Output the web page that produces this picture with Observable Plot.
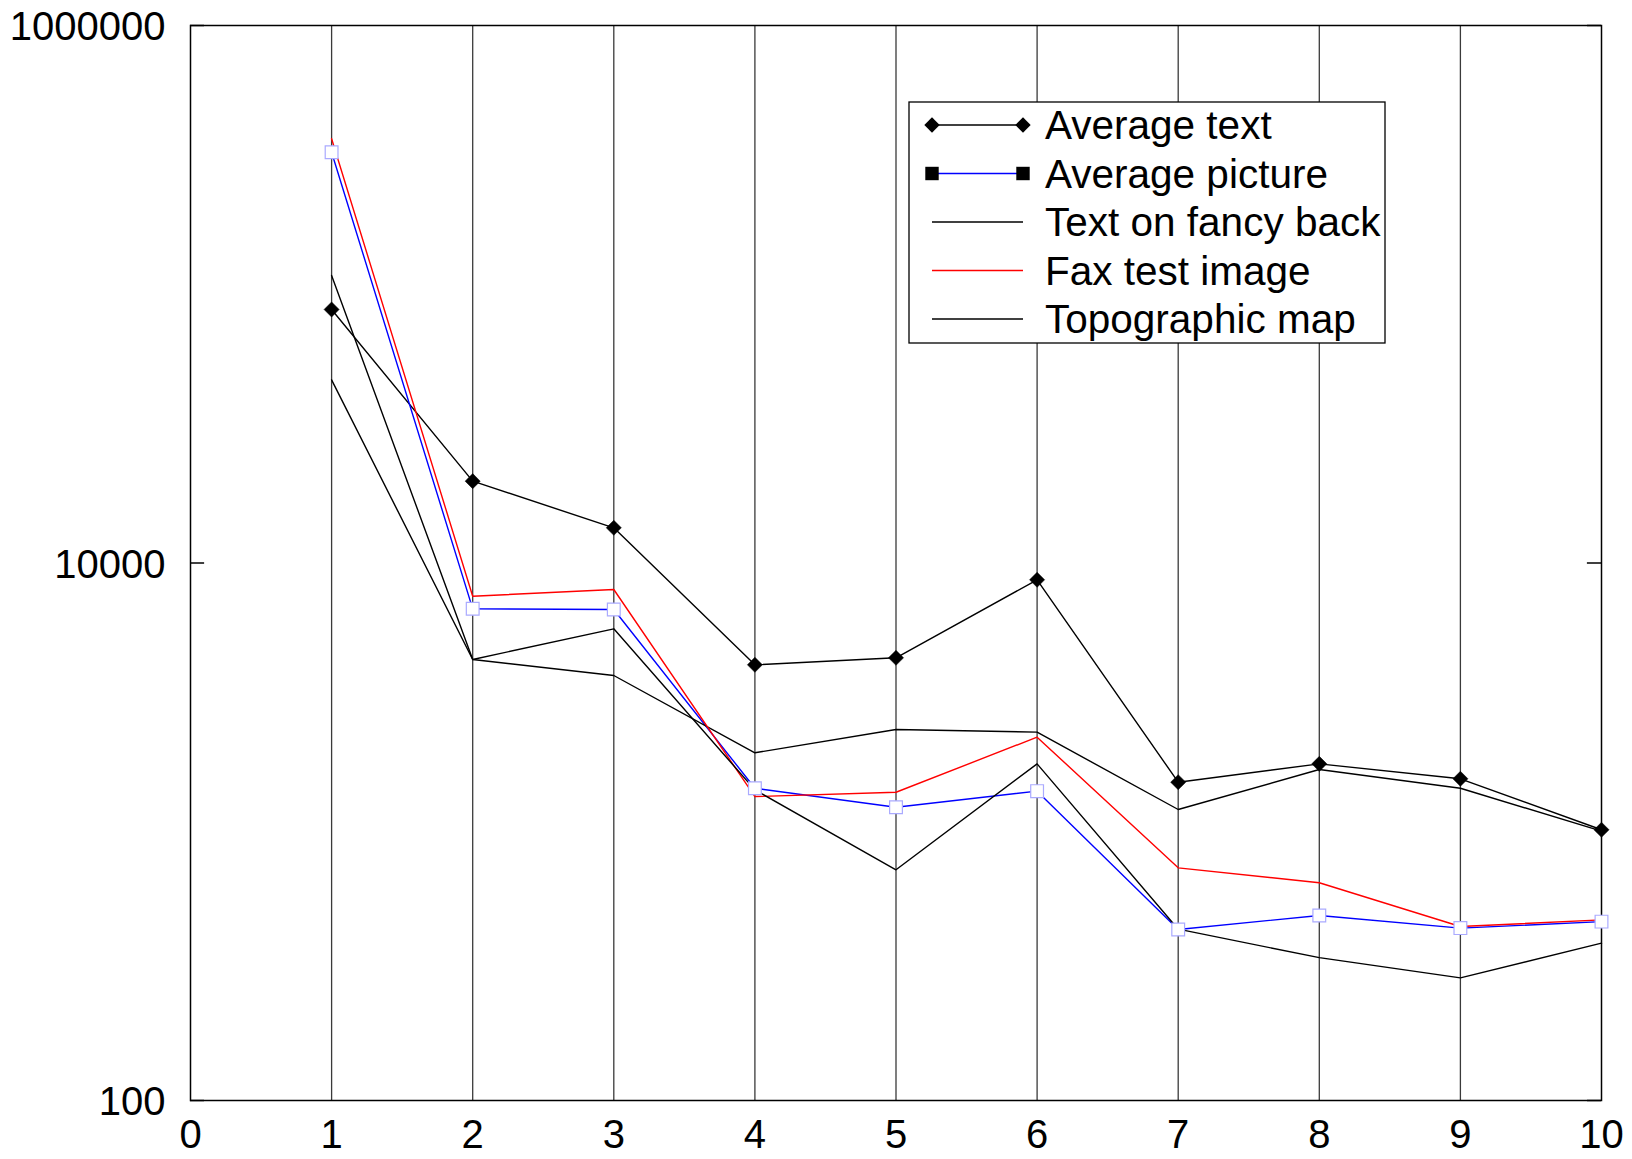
<!DOCTYPE html>
<html>
<head>
<meta charset="utf-8">
<script src="https://cdn.jsdelivr.net/npm/d3@7"></script>
<script src="https://cdn.jsdelivr.net/npm/@observablehq/plot@0.6"></script>
<style>
  html, body { margin: 0; padding: 0; background: white; }
  #wrap { position: relative; width: 1632px; height: 1159px; }
  #legend { position: absolute; left: 0; top: 0; pointer-events: none; }
</style>
</head>
<body>
<div id="wrap"></div>
<script>
// ---- data ----
const xValues = [1, 2, 3, 4, 5, 6, 7, 8, 9, 10];
const averageText    = [87760, 20160, 13520, 4180, 4438, 8659, 1529, 1789, 1574, 1017];
const averagePicture = [337800, 6752, 6714, 1452, 1234, 1416, 433, 488, 438, 463];
const textOnFancy    = [117400, 4375, 3814, 1967, 2402, 2347, 1210, 1704, 1452, 1005];
const faxTest        = [378900, 7523, 7969, 1352, 1403, 2249, 734, 646, 444, 470];
const topographic    = [48040, 4375, 5690, 1432, 722, 1789, 434, 340, 286, 385];
const seriesNames = ["Average text", "Average picture", "Text on fancy back", "Fax test image", "Topographic map"];
const xTicks = [0, 1, 2, 3, 4, 5, 6, 7, 8, 9, 10];
const yTicks = [100, 10000, 1000000];
const gridX = [1, 2, 3, 4, 5, 6, 7, 8, 9];

// ---- styling ----
const seriesColors = ["#000000", "#0000ff", "#000000", "#ff0000", "#000000"];
const seriesValues = [averageText, averagePicture, textOnFancy, faxTest, topographic];
const FONT = "'Liberation Sans', Arial, Helvetica, sans-serif";

const tables = seriesValues.map((vals, i) =>
  xValues.map((x, j) => ({x, y: vals[j], series: seriesNames[i]})));

const lineMarks = tables.map((t, i) =>
  Plot.line(t, {x: "x", y: "y", stroke: seriesColors[i], strokeWidth: 1.4}));

const chart = Plot.plot({
  width: 1632,
  height: 1159,
  marginLeft: 190,
  marginRight: 31,
  marginTop: 25,
  marginBottom: 59,
  style: {fontFamily: FONT, fontSize: "40px", color: "black", background: "white"},
  x: {domain: [0, 10], label: null},
  y: {type: "log", domain: [100, 1000000], label: null},
  marks: [
    Plot.axisX(xTicks, {tickSize: 0, tickPadding: 19, label: null, tickFormat: d => String(d)}),
    Plot.axisY(yTicks, {tickSize: 0, tickPadding: 25, dy: 2, label: null, tickFormat: d => String(d)}),
    Plot.ruleX(gridX, {x: d => d, stroke: "#3a3a3a", strokeWidth: 1.3}),
    // inward tick marks on left and right edges
    Plot.ruleY(yTicks, {y: d => d, x1: 0, x2: 0.1, stroke: "black", strokeWidth: 1.5}),
    Plot.ruleY(yTicks, {y: d => d, x1: 9.9, x2: 10, stroke: "black", strokeWidth: 1.5}),
    Plot.frame({stroke: "black", strokeWidth: 1.5}),
    ...lineMarks,
    Plot.dot(tables[0], {x: "x", y: "y", symbol: "diamond2", r: 6.8, fill: "black", stroke: "black", strokeWidth: 0.5}),
    Plot.dot(tables[1], {x: "x", y: "y", symbol: "square", r: 7.2, fill: "white", stroke: "#aaaaff", strokeWidth: 1.2})
  ]
});
document.getElementById("wrap").appendChild(chart);

// ---- legend (drawn inside the plot area, as in the reference) ----
const lg = d3.select("#wrap").append("svg")
  .attr("id", "legend").attr("width", 1632).attr("height", 1159);
lg.append("rect").attr("x", 909).attr("y", 102).attr("width", 476).attr("height", 241)
  .attr("fill", "white").attr("stroke", "black").attr("stroke-width", 1.3);
const rowY0 = 125, rowStep = 48.5, sx1 = 932, sx2 = 1023, tx = 1045;
seriesNames.forEach((name, i) => {
  const y = rowY0 + i * rowStep;
  lg.append("line").attr("x1", sx1).attr("x2", sx2).attr("y1", y).attr("y2", y)
    .attr("stroke", seriesColors[i]).attr("stroke-width", 1.4);
  if (i === 0) {
    [sx1, sx2].forEach(cx => lg.append("path")
      .attr("d", d3.symbol(d3.symbolDiamond2, 150)()).attr("transform", `translate(${cx},${y})`)
      .attr("fill", "black"));
  } else if (i === 1) {
    [sx1, sx2].forEach(cx => lg.append("path")
      .attr("d", d3.symbol(d3.symbolSquare, 180)()).attr("transform", `translate(${cx},${y})`)
      .attr("fill", "black"));
  }
  lg.append("text").attr("x", tx).attr("y", y).attr("dy", "0.35em")
    .attr("font-family", FONT).attr("font-size", 40.5).attr("fill", "black").text(name);
});
</script>
</body>
</html>
